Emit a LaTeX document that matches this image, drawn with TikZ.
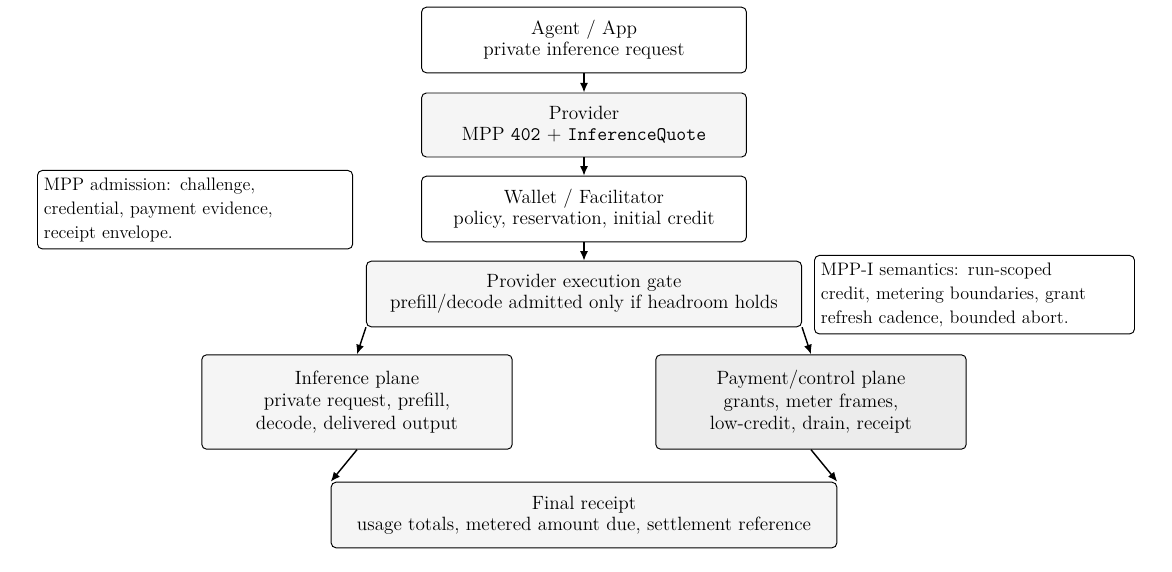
\documentclass[tikz,border=0pt]{standalone}
\usetikzlibrary{arrows.meta}
\definecolor{fillA}{HTML}{F5F5F5}
\definecolor{fillB}{HTML}{ECECEC}
\newcommand{\subf}{\fontsize{12}{14}\selectfont}
\begin{document}
\begin{tikzpicture}[x=0.625pt,y=-0.625pt,
  box/.style={draw,rounded corners=3pt,align=center,inner sep=0pt,line width=0.6pt},
  note/.style={draw,rounded corners=3pt,align=left,inner xsep=4pt,inner ysep=3pt,line width=0.6pt,anchor=north west,font=\fontsize{11.3}{15}\selectfont},
  arr/.style={-{Latex[length=6pt,width=5pt]},line width=0.9pt}]
\useasboundingbox (0,0) rectangle (1172,572);
\node[box,minimum width=203pt,minimum height=41pt] (agent) at (584,40)
  {{\large Agent / App}\\[1pt]{\subf private inference request}};
\node[box,fill=fillA,minimum width=203pt,minimum height=40pt] (prov) at (584,125)
  {{\large Provider}\\[1pt]{\subf MPP \texttt{402} + \texttt{InferenceQuote}}};
\node[box,minimum width=203pt,minimum height=41pt] (wallet) at (584,209)
  {{\large Wallet / Facilitator}\\[1pt]{\subf policy, reservation, initial credit}};
\node[box,fill=fillA,minimum width=272pt,minimum height=41pt] (gate) at (584,294)
  {{\large Provider execution gate}\\[1pt]{\subf prefill/decode admitted only if headroom holds}};
\node[box,fill=fillA,minimum width=194pt,minimum height=59pt] (inf) at (357,402)
  {{\large Inference plane}\\[2pt]{\subf private request, prefill,}\\[2pt]{\subf decode, delivered output}};
\node[box,fill=fillB,minimum width=194pt,minimum height=59pt] (pay) at (811,402)
  {{\large Payment/control plane}\\[2pt]{\subf grants, meter frames,}\\[2pt]{\subf low-credit, drain, receipt}};
\node[box,fill=fillA,minimum width=316pt,minimum height=41pt] (final) at (584,515)
  {{\large Final receipt}\\[1pt]{\subf usage totals, metered amount due, settlement reference}};
\node[note,text width=189pt,minimum height=49pt] (n1) at (37,170)
  {MPP admission: challenge,\\credential, payment evidence,\\receipt envelope.};
\node[note,text width=192pt,minimum height=49pt] (n2) at (814,255)
  {MPP-I semantics: run-scoped\\credit, metering boundaries, grant\\refresh cadence, bounded abort.};
\draw[arr] (agent) -- (prov);
\draw[arr] (prov) -- (wallet);
\draw[arr] (wallet) -- (gate);
\draw[arr] (gate.south west) -- (inf.north);
\draw[arr] (gate.south east) -- (pay.north);
\draw[arr] (inf.south) -- (final.north west);
\draw[arr] (pay.south) -- (final.north east);
\end{tikzpicture}
\end{document}
